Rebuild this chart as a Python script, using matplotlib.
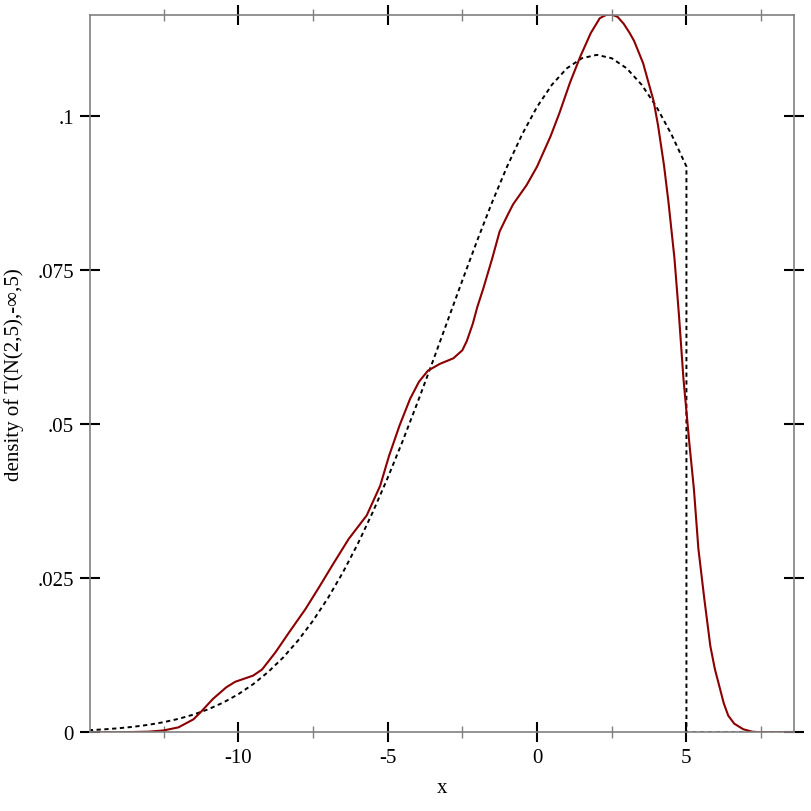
import matplotlib
matplotlib.use("Agg")
import matplotlib.pyplot as plt

# dashed curve: truncated normal density T(N(2,5),-inf,5)
dash_x = [-15.0, -14.5, -14.0, -13.5, -13.0, -12.5, -12.0, -11.5, -11.0, -10.5,
          -10.0, -9.5, -9.0, -8.5, -8.0, -7.5, -7.0, -6.5, -6.0, -5.5,
          -5.0, -4.5, -4.0, -3.5, -3.0, -2.5, -2.0, -1.5, -1.0, -0.5,
          0.0, 0.5, 1.0, 1.5, 2.0, 2.5, 3.0, 3.5, 4.0, 4.5,
          5.0, 5.0, 8.6]
dash_y = [0.00034, 0.000475, 0.000657, 0.0009, 0.00122, 0.00164, 0.00218, 0.00287, 0.00374, 0.00483,
          0.00617, 0.00781, 0.00978, 0.01212, 0.01488, 0.01809, 0.02176, 0.02592, 0.03057, 0.0357,
          0.04127, 0.04723, 0.05352, 0.06004, 0.06669, 0.07333, 0.07984, 0.08606, 0.09184, 0.09703,
          0.1015, 0.10511, 0.10777, 0.1094, 0.10995, 0.1094, 0.10777, 0.10511, 0.1015, 0.09703,
          0.09184, 0.0, 0.0]

# solid curve: estimated density of samples
kde_x = [-15.0, -14.0, -13.0, -12.5, -12.0, -11.5, -11.25, -10.85, -10.4, -10.1,
         -9.8, -9.5, -9.2, -8.75, -8.3, -7.75, -7.3, -6.8, -6.3, -5.7,
         -5.25, -4.95, -4.6, -4.25, -3.95, -3.65, -3.25, -2.8, -2.5, -2.35,
         -2.15, -2.0, -1.8, -1.5, -1.25, -1.0, -0.8, -0.35, 0.0, 0.45,
         0.75, 1.1, 1.45, 1.8, 2.1, 2.3, 2.5, 2.7, 2.9, 3.1,
         3.25, 3.55, 3.9, 4.05, 4.25, 4.4, 4.6, 4.75, 4.9, 5.1,
         5.25, 5.4, 5.6, 5.8, 5.95, 6.1, 6.25, 6.4, 6.6, 6.9,
         7.2, 7.5, 8.6]
kde_y = [0.0, 0.0, 0.0001, 0.0003, 0.0008, 0.0021, 0.0033, 0.0054, 0.0073, 0.0082,
         0.0087, 0.0092, 0.0102, 0.0130, 0.0162, 0.0200, 0.0235, 0.0275, 0.0314, 0.0352,
         0.0400, 0.0449, 0.0498, 0.0541, 0.0569, 0.0587, 0.0598, 0.0607, 0.0620, 0.0635,
         0.0663, 0.0690, 0.0720, 0.0769, 0.0813, 0.0838, 0.0857, 0.0888, 0.0918, 0.0967,
         0.1005, 0.1054, 0.1097, 0.1135, 0.1159, 0.1164, 0.1165, 0.1161, 0.1150, 0.1135,
         0.1122, 0.1086, 0.1025, 0.0985, 0.0920, 0.0860, 0.0769, 0.0677, 0.0574, 0.0468,
         0.0395, 0.0298, 0.0216, 0.0140, 0.0103, 0.0075, 0.0047, 0.0027, 0.0014, 0.0005,
         0.0001, 0.0, 0.0]

x_major = [-10, -5, 0, 5]
x_minor = [-12.5, -7.5, -2.5, 2.5, 7.5]
y_ticks = [0, 0.025, 0.05, 0.075, 0.1]
y_labels = ["0", ".025", ".05", ".075", ".1"]

plt.rcParams['font.family'] = ['Liberation Serif', 'DejaVu Serif']
plt.rcParams['axes.unicode_minus'] = False

fig = plt.figure(figsize=(8.12, 8.12), dpi=100)
ax = fig.add_axes([90 / 812, 1 - 733.3 / 812, 704 / 812, 717.8 / 812])

ax.plot(dash_x, dash_y, color='black', lw=1.4, linestyle=(0, (2.2, 1.8)))
ax.plot(kde_x, kde_y, color='#8b0000', lw=1.5)

ax.set_xlim(-14.96, 8.6)
ax.set_ylim(0, 0.1165)

ax.set_xticks(x_major)
ax.set_xticks(x_minor, minor=True)
ax.set_yticks(y_ticks)
ax.set_yticklabels(y_labels)

for s in ax.spines.values():
    s.set_color('#808080')
    s.set_linewidth(1.2)

ax.tick_params(which='major', direction='inout', length=15, width=1.5, color='black',
               top=True, right=True, labelsize=15, pad=4)
ax.tick_params(which='minor', direction='inout', length=8, width=1, color='#808080',
               top=True, right=True)

ax.set_xlabel("x", fontsize=15, labelpad=8)
ax.set_ylabel("density of T(N(2,5),-∞,5)", fontsize=15, labelpad=10)

fig.savefig("out.png", dpi=100)
